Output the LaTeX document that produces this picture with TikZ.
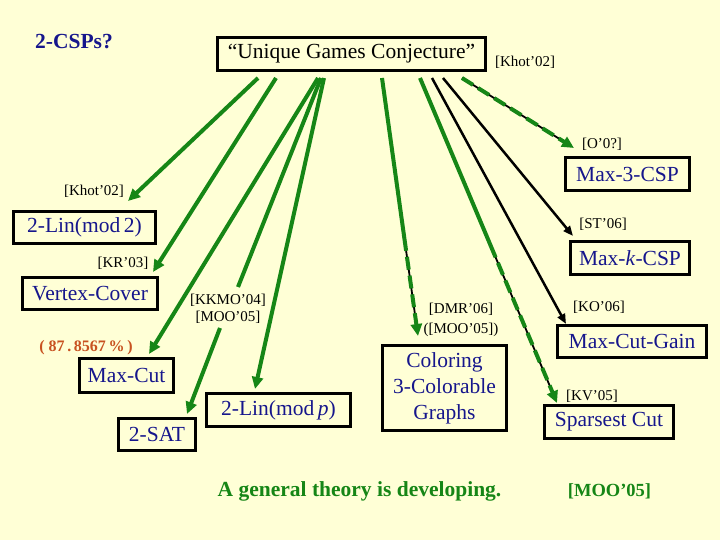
\documentclass[tikz,border=0pt]{standalone}
\usepackage{fontspec}
\setmainfont{Liberation Serif}
\usetikzlibrary{arrows.meta,calc}
\definecolor{bgc}{RGB}{255,255,214}
\definecolor{navy}{RGB}{22,22,140}
\definecolor{grn}{RGB}{22,134,22}
\definecolor{orng}{RGB}{200,82,32}
\tikzset{
  probbox/.style={draw=black,line width=3pt,inner sep=0pt,text=navy,font=\fontsize{21.5}{26}\selectfont,align=center},
  reflabel/.style={inner sep=0pt,font=\fontsize{15}{17}\selectfont,align=center},
  garrow/.style={draw=grn,line width=4pt,-{Triangle[length=12pt,width=11pt]}},
  gline/.style={draw=grn,line width=4pt},
  gdash/.style={draw=grn,line width=4pt,dash pattern=on 13pt off 6pt,-{Triangle[length=12pt,width=11pt]}},
  bunder/.style={draw=black,line width=1.8pt},
  barrow/.style={draw=black,line width=2.5pt,-{Triangle[length=10pt,width=8pt]}},
}
\begin{document}
\begin{tikzpicture}[x=1pt,y=-1pt]
\fill[bgc] (0,0) rectangle (720,540);
\useasboundingbox (0,0) rectangle (720,540);

% titles
\node[text=navy,font=\fontsize{21.5}{24}\selectfont\bfseries,inner sep=0pt] (title) at (74,42) {2-CSPs?};
\node[draw=black,line width=3pt,inner sep=0pt,minimum width=268pt,minimum height=33pt,font=\fontsize{21.5}{26}\selectfont] (ugc) at (351.5,54) {``Unique Games Conjecture''};
\node[reflabel] (khotR) at (525,62) {[Khot'02]};

% problem boxes
\node[probbox,minimum width=124pt,minimum height=33pt] (m3) at (627.5,174) {Max-3-CSP};
\node[probbox,minimum width=142pt,minimum height=32pt] (lin2) at (84.5,227.5) {2-Lin(mod\,2)};
\node[probbox,minimum width=135pt,minimum height=32pt] (vc) at (90,293.5) {Vertex-Cover};
\node[probbox,minimum width=94pt,minimum height=34pt] (mc) at (126.5,375.5) {Max-Cut};
\node[probbox,minimum width=77pt,minimum height=32pt] (sat) at (157,434.5) {2-SAT};
\node[probbox,minimum width=144pt,minimum height=33pt] (linp) at (278.5,410) {2-Lin(mod\,\textit{p})};
\node[probbox,minimum width=124pt,minimum height=85pt] (col) at (444.5,388) {Coloring\\3-Colorable\\Graphs};
\node[probbox,minimum width=119pt,minimum height=33pt] (mk) at (630,258) {Max-\textit{k}-CSP};
\node[probbox,minimum width=149pt,minimum height=32pt] (mcg) at (632,341.5) {Max-Cut-Gain};
\node[probbox,minimum width=129pt,minimum height=33pt] (sc) at (609,422) {Sparsest Cut};

% reference labels
\node[reflabel] (o0) at (602,144) {[O'0?]};
\node[reflabel] (khotL) at (94,191) {[Khot'02]};
\node[reflabel] (kr) at (123,263) {[KR'03]};
\node[reflabel,font=\fontsize{15}{17}\selectfont] (kkmo) at (228,308.5) {[KKMO'04]\\{}[MOO'05]};
\node[inner sep=0pt,text=orng,font=\fontsize{16}{18}\selectfont\bfseries] (pct) at (86,348) {( 87\,.\,8567\,\%\,)};
\node[reflabel,font=\fontsize{15}{20}\selectfont] (dmr) at (461,320) {[DMR'06]\\{}([MOO'05])};
\node[reflabel] (st) at (603,224) {[ST'06]};
\node[reflabel] (ko) at (599,307) {[KO'06]};
\node[reflabel] (kv) at (592,396) {[KV'05]};

% bottom
\node[text=grn,inner sep=0pt,font=\fontsize{21.5}{24}\selectfont\bfseries] (gen) at (359.5,491) {A general theory is developing.};
\node[text=grn,inner sep=0pt,font=\fontsize{18.5}{22}\selectfont\bfseries] (mooB) at (609.5,491) {[MOO'05]};

% connector end points
\coordinate (s1) at (258,78);
\coordinate (s2) at (276,78);
\coordinate (s3) at (318,78);
\coordinate (s4) at (321,78);
\coordinate (s5) at (324,78);
\coordinate (s6) at (382,78);
\coordinate (s7) at (420,78);
\coordinate (s8) at (432,78);
\coordinate (s9) at (443,78);
\coordinate (s10) at (462,78);
\coordinate (tlin2) at (128,201);
\coordinate (tvc) at (153,272);
\coordinate (tmc) at (149,354);
\coordinate (kkmoT) at (238,287);
\coordinate (kkmoB) at (220,328);
\coordinate (tsat) at (187,414);
\coordinate (tlinp) at (255,389);
\coordinate (tcol) at (418,336);
\coordinate (tsc) at (557,403);
\coordinate (tmcg) at (566,324);
\coordinate (tmk) at (573,236);
\coordinate (tm3) at (574,148);
\coordinate (mcol) at ($(s6)!0.62!(tcol)$);
\coordinate (msc) at ($(s7)!0.515!(tsc)$);

% connectors
\draw[garrow] (s1) -- (tlin2);
\draw[garrow] (s2) -- (tvc);
\draw[garrow] (s3) -- (tmc);
\draw[gline] (s4) -- (kkmoT);
\draw[garrow] (kkmoB) -- (tsat);
\draw[garrow] (s5) -- (tlinp);
\draw[gline] (s6) -- (mcol);
\draw[bunder] (mcol) -- ($(mcol)!0.9!(tcol)$);
\draw[gdash] (mcol) -- (tcol);
\draw[gline] (s7) -- (msc);
\draw[bunder] (msc) -- ($(msc)!0.9!(tsc)$);
\draw[gdash] (msc) -- (tsc);
\draw[barrow] (s8) -- (tmcg);
\draw[barrow] (s9) -- (tmk);
\draw[bunder] (s10) -- ($(s10)!0.9!(tm3)$);
\draw[gdash] (s10) -- (tm3);
\end{tikzpicture}
\end{document}
